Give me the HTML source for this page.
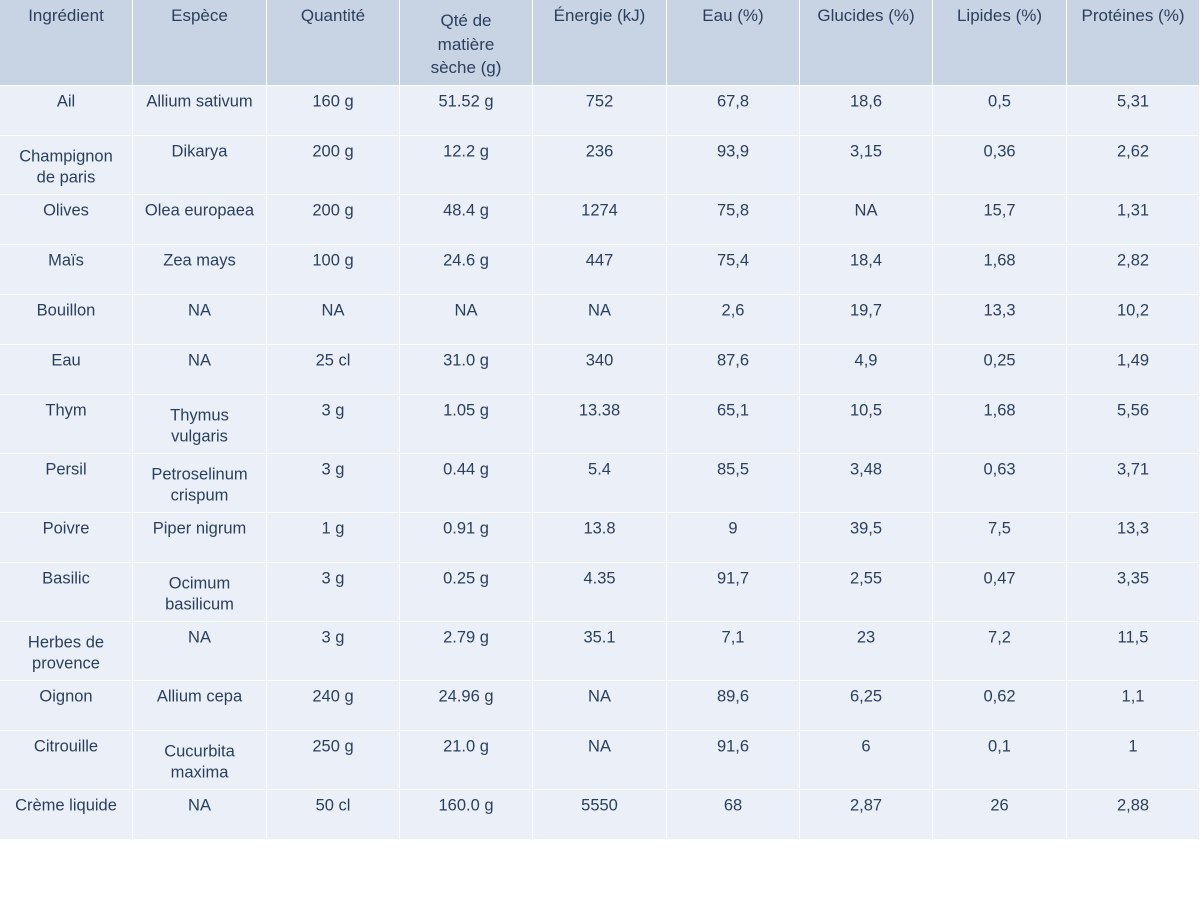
<!DOCTYPE html>
<html><head><meta charset="utf-8">
<style>
body{margin:0;width:1200px;height:900px;background:#fff;position:relative;overflow:hidden;font-family:"Liberation Sans",sans-serif;}
.c{position:absolute;box-sizing:border-box;border-right:1px solid #fff;border-bottom:1px solid #fff;color:#2a3f5f;font-size:16.5px;}
.c span{position:absolute;left:0;right:0;text-align:center;transform:translateY(-50%);white-space:nowrap;}
.h{background:#c8d4e3;font-size:17px;}
.b{background:#ebf0f8;}
</style></head>
<body>
<div id="tbl"></div>
<script>
const headers=[["Ingrédient"],["Espèce"],["Quantité"],["Qté de","matière","sèche (g)"],["Énergie (kJ)"],["Eau (%)"],["Glucides (%)"],["Lipides (%)"],["Protéines (%)"]];
const rows=[
[["Ail"],["Allium sativum"],["160 g"],["51.52 g"],["752"],["67,8"],["18,6"],["0,5"],["5,31"]],
[["Champignon","de paris"],["Dikarya"],["200 g"],["12.2 g"],["236"],["93,9"],["3,15"],["0,36"],["2,62"]],
[["Olives"],["Olea europaea"],["200 g"],["48.4 g"],["1274"],["75,8"],["NA"],["15,7"],["1,31"]],
[["Maïs"],["Zea mays"],["100 g"],["24.6 g"],["447"],["75,4"],["18,4"],["1,68"],["2,82"]],
[["Bouillon"],["NA"],["NA"],["NA"],["NA"],["2,6"],["19,7"],["13,3"],["10,2"]],
[["Eau"],["NA"],["25 cl"],["31.0 g"],["340"],["87,6"],["4,9"],["0,25"],["1,49"]],
[["Thym"],["Thymus","vulgaris"],["3 g"],["1.05 g"],["13.38"],["65,1"],["10,5"],["1,68"],["5,56"]],
[["Persil"],["Petroselinum","crispum"],["3 g"],["0.44 g"],["5.4"],["85,5"],["3,48"],["0,63"],["3,71"]],
[["Poivre"],["Piper nigrum"],["1 g"],["0.91 g"],["13.8"],["9"],["39,5"],["7,5"],["13,3"]],
[["Basilic"],["Ocimum","basilicum"],["3 g"],["0.25 g"],["4.35"],["91,7"],["2,55"],["0,47"],["3,35"]],
[["Herbes de","provence"],["NA"],["3 g"],["2.79 g"],["35.1"],["7,1"],["23"],["7,2"],["11,5"]],
[["Oignon"],["Allium cepa"],["240 g"],["24.96 g"],["NA"],["89,6"],["6,25"],["0,62"],["1,1"]],
[["Citrouille"],["Cucurbita","maxima"],["250 g"],["21.0 g"],["NA"],["91,6"],["6"],["0,1"],["1"]],
[["Crème liquide"],["NA"],["50 cl"],["160.0 g"],["5550"],["68"],["2,87"],["26"],["2,88"]]
];
const colW=1200/9;
const root=document.getElementById('tbl');
function cell(lines,x,y,w,h,isHead){
  const d=document.createElement('div');
  d.className='c '+(isHead?'h':'b');
  
  
  d.style.left=x+'px';d.style.top=y+'px';d.style.width=w+'px';d.style.height=h+'px';
  const multi=lines.length>1;
  lines.forEach((t,i)=>{
    const s=document.createElement('span');
    s.textContent=t;
    const off=isHead?(multi?21+i*23.5:16):(multi?21+i*21:16);
    s.style.top=off+'px';
    d.appendChild(s);
  });
  root.appendChild(d);
}
headers.forEach((h,i)=>cell(h,Math.round(i*colW),0,Math.round((i+1)*colW)-Math.round(i*colW),86,true));
let y=86;
rows.forEach(r=>{
  const multi=r.some(c=>c.length>1);
  const h=multi?59:50;
  r.forEach((c,i)=>cell(c,Math.round(i*colW),y,Math.round((i+1)*colW)-Math.round(i*colW),h,false));
  y+=h;
});
</script>
</body></html>
